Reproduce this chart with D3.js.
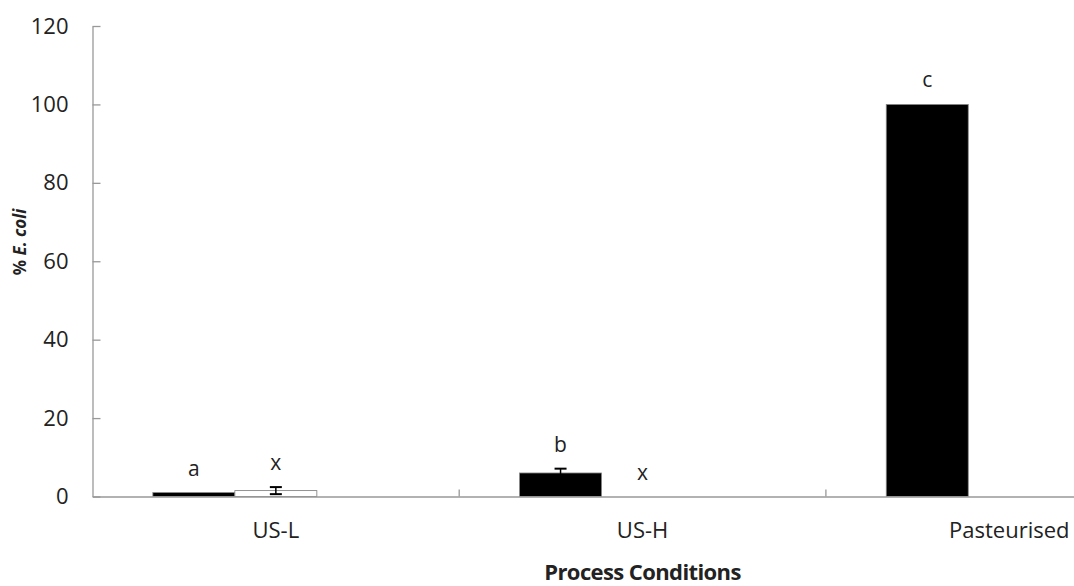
<!DOCTYPE html>
<html>
<head>
<meta charset="utf-8">
<script src="https://cdn.jsdelivr.net/npm/d3@7"></script>
<style>
    body { margin: 0; background: #fff; }
    text { font-family: "Open Sans", sans-serif; fill: #222; }
</style>
</head>
<body>
<div id="chart"></div>
<script>
// data
var categories = ["US-L", "US-H", "Pasteurised"];
var seriesKeys = ["black", "white", "none"];
var blackValues = [1.0, 6.0, 100];
var blackErrors = [0, 1.1, 0];
var blackLetters = ["a", "b", "c"];
var whiteValues = [1.5, 0, null];
var whiteErrors = [0.9, 0, null];
var whiteLetters = ["x", "x", null];
var yTicks = [0, 20, 40, 60, 80, 100, 120];

var margin = { top: 26, left: 92.5 };
var width = 1074, height = 586;
var plotBottom = 496.5;

var svg = d3.select("#chart").append("svg")
    .attr("width", width)
    .attr("height", height);

var x0 = d3.scaleBand().domain(categories).range([margin.left, margin.left + 3 * 366.7]);
var x1 = d3.scaleBand().domain(seriesKeys).range([0, x0.bandwidth()]).paddingOuter(0.736);
var y = d3.scaleLinear().domain([0, 120]).range([plotBottom, margin.top]);

var rows = [];
categories.forEach(function (c, i) {
    rows.push({ cat: c, key: "black", v: blackValues[i], e: blackErrors[i], label: blackLetters[i] });
    if (whiteValues[i] !== null) {
        rows.push({ cat: c, key: "white", v: whiteValues[i], e: whiteErrors[i], label: whiteLetters[i] });
    }
});

// bars
svg.selectAll("rect.bar")
    .data(rows)
    .enter().append("rect")
    .attr("class", "bar")
    .attr("x", function (d) { return x0(d.cat) + x1(d.key); })
    .attr("width", x1.bandwidth())
    .attr("y", function (d) { return y(d.v); })
    .attr("height", function (d) { return plotBottom - y(d.v); })
    .attr("fill", function (d) { return d.key == "black" ? "#000" : "#fff"; })
    .attr("stroke", function (d) { return d.key == "black" ? "#888" : "#777"; })
    .attr("stroke-width", function (d) { return d.v > 0 ? 0.8 : 0; });

// error bars
var errRows = rows.filter(function (d) { return d.e > 0; });
var ex = function (d) { return x0(d.cat) + x1(d.key) + x1.bandwidth() / 2; };
var errG = svg.selectAll("g.err").data(errRows).enter().append("g").attr("class", "err");
errG.append("line")
    .attr("x1", ex).attr("x2", ex)
    .attr("y1", function (d) { return y(d.v - d.e); })
    .attr("y2", function (d) { return y(d.v + d.e); })
    .attr("stroke", "#000").attr("stroke-width", 1.5);
[-1, 1].forEach(function (s) {
    errG.append("line")
        .attr("x1", function (d) { return ex(d) - 6; })
        .attr("x2", function (d) { return ex(d) + 6; })
        .attr("y1", function (d) { return y(d.v + s * d.e); })
        .attr("y2", function (d) { return y(d.v + s * d.e); })
        .attr("stroke", "#000").attr("stroke-width", 2);
});

// significance letters
svg.selectAll("text.letter")
    .data(rows)
    .enter().append("text")
    .attr("class", "letter")
    .attr("text-anchor", "middle")
    .attr("font-size", "21px")
    .attr("x", ex)
    .attr("y", function (d) { return y(d.v + d.e) - 17; })
    .text(function (d) { return d.label; });

// y axis
var yAxis = svg.append("g")
    .attr("transform", "translate(" + margin.left + ",0)")
    .call(d3.axisLeft(y).tickValues(yTicks).tickSize(-8).tickSizeOuter(0).tickPadding(24));
yAxis.selectAll("text").attr("font-size", "22px").attr("fill", "#222");

// x axis
var xAxis = svg.append("g")
    .attr("transform", "translate(0," + plotBottom + ")")
    .call(d3.axisBottom(x0).tickSize(0).tickSizeOuter(0).tickPadding(26));
xAxis.selectAll("text").attr("font-size", "22px").attr("fill", "#222");
xAxis.selectAll(".boundary")
    .data(categories.slice(1))
    .enter().append("line")
    .attr("class", "boundary")
    .attr("x1", function (d) { return x0(d); })
    .attr("x2", function (d) { return x0(d); })
    .attr("y1", 0).attr("y2", -7)
    .attr("stroke", "#999");

svg.selectAll(".domain, .tick line").attr("stroke", "#999").attr("stroke-width", 1.3);
xAxis.selectAll(".boundary").attr("stroke-width", 1.3);

// axis titles
svg.append("text")
    .attr("x", x0("US-H") + x0.bandwidth() / 2)
    .attr("y", 580)
    .attr("text-anchor", "middle")
    .attr("font-size", "22px")
    .attr("font-weight", "bold")
    .attr("letter-spacing", "-0.6px")
    .text("Process Conditions");

var yt = svg.append("text")
    .attr("transform", "translate(26,242) rotate(-90)")
    .attr("text-anchor", "middle")
    .attr("font-size", "17px")
    .attr("font-weight", "bold");
yt.append("tspan").text("% ");
yt.append("tspan").attr("font-style", "italic").text("E. coli");
</script>
</body>
</html>
